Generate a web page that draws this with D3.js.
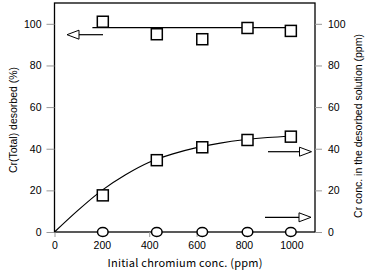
<!DOCTYPE html>
<html><head><meta charset="utf-8">
<script src="https://cdn.jsdelivr.net/npm/d3@7"></script>
<style>body{margin:0;background:#fff}svg{display:block}</style>
</head><body>
<svg id="c" width="368" height="272"></svg>
<script>
const xTicks = [0, 200, 400, 600, 800, 1000];
const yTicks = [0, 20, 40, 60, 80, 100];
const conc = [204, 432, 624, 815, 998];
const desorbedPct = [101, 95, 92.6, 98, 96.6];
const solutionPpm = [17.6, 34.5, 40.7, 44.2, 45.8];
const residualPpm = [0, 0, 0, 0, 0];
const pctLineX = [160, 1000];
const pctLineY = [98.2, 98.2];
const curveX = [0, 100, 200, 300, 400, 500, 600, 700, 800, 900, 1000];
const curveY = [0, 10.5, 20, 27.5, 33.5, 37.5, 40.5, 42.7, 44.3, 45.4, 46];

const svg = d3.select("#c");
const x = d3.scaleLinear().domain([0, 1100]).range([54.5, 315]);
const yL = d3.scaleLinear().domain([0, 110]).range([232, 3]);
const yR = d3.scaleLinear().domain([0, 110]).range([232, 3]);
const tickFont = "'Liberation Sans', Arial, sans-serif";

// box
svg.append("rect").attr("x", x(0)).attr("y", yL(110)).attr("width", x(1100) - x(0)).attr("height", yL(0) - yL(110))
  .attr("fill", "none").attr("stroke", "#000").attr("stroke-width", 1.3);

// axes
const gL = svg.append("g").attr("transform", `translate(${x(0)},0)`)
  .call(d3.axisLeft(yL).tickValues(yTicks).tickSize(8).tickPadding(5).tickFormat(d3.format("d")));
const gR = svg.append("g").attr("transform", `translate(${x(1100)},0)`)
  .call(d3.axisRight(yR).tickValues(yTicks).tickSize(7).tickPadding(6).tickFormat(d3.format("d")));
const gB = svg.append("g").attr("transform", `translate(0,${yL(0)})`)
  .call(d3.axisBottom(x).tickValues(xTicks).tickSize(5).tickPadding(5).tickFormat(d3.format("d")));
[gL, gR, gB].forEach(g => {
  g.select(".domain").remove();
  g.selectAll(".tick line").attr("stroke", "#999");
  g.selectAll(".tick text").attr("font-family", tickFont).attr("font-size", 10.5).attr("fill", "#000");
});

// titles
svg.append("text").attr("transform", `translate(17,120) rotate(-90)`)
  .attr("text-anchor", "middle").attr("font-family", tickFont).attr("font-size", 10.5)
  .text("Cr(Total) desorbed (%)");
svg.append("text").attr("transform", `translate(362,126) rotate(-90)`)
  .attr("text-anchor", "middle").attr("font-family", tickFont).attr("font-size", 10.5)
  .text("Cr conc. in the desorbed solution (ppm)");
svg.append("text").attr("x", 185).attr("y", 267)
  .attr("text-anchor", "middle").attr("font-family", "'Noto Sans CJK JP', sans-serif").attr("font-size", 11)
  .attr("textLength", 155).attr("lengthAdjust", "spacing")
  .text("Initial chromium conc. (ppm)");

// lines
svg.append("path").datum(d3.zip(pctLineX, pctLineY))
  .attr("d", d3.line().x(d => x(d[0])).y(d => yL(d[1])))
  .attr("fill", "none").attr("stroke", "#000").attr("stroke-width", 1.2);
svg.append("path").datum(d3.zip(curveX, curveY))
  .attr("d", d3.line().x(d => x(d[0])).y(d => yR(d[1])).curve(d3.curveMonotoneX))
  .attr("fill", "none").attr("stroke", "#000").attr("stroke-width", 1.2);

// markers
const sq = 11;
svg.append("g").selectAll("rect").data(d3.zip(conc, desorbedPct)).join("rect")
  .attr("x", d => x(d[0]) - sq/2).attr("y", d => yL(d[1]) - sq/2).attr("width", sq).attr("height", sq)
  .attr("fill", "#fff").attr("stroke", "#000").attr("stroke-width", 1.5);
svg.append("g").selectAll("rect").data(d3.zip(conc, solutionPpm)).join("rect")
  .attr("x", d => x(d[0]) - sq/2).attr("y", d => yR(d[1]) - sq/2).attr("width", sq).attr("height", sq)
  .attr("fill", "#fff").attr("stroke", "#000").attr("stroke-width", 1.5);
svg.append("g").selectAll("ellipse").data(d3.zip(conc, residualPpm)).join("ellipse")
  .attr("cx", d => x(d[0])).attr("cy", d => yR(d[1])).attr("rx", 5.3).attr("ry", 4.4)
  .attr("fill", "#fff").attr("stroke", "#000").attr("stroke-width", 1.5);

// arrows
function arrow(x1, x2, y, dir) {
  const base = x2 - dir * 12;
  svg.append("line").attr("x1", x1).attr("x2", base).attr("y1", y).attr("y2", y)
    .attr("stroke", "#000").attr("stroke-width", 1.2);
  svg.append("path").attr("d", `M${x2},${y} L${base},${y-4.5} L${base},${y+4.5} Z`)
    .attr("fill", "#fff").attr("stroke", "#000").attr("stroke-width", 1);
}
arrow(103, 67, 34.7, -1);
arrow(268, 311.5, 151.7, 1);
arrow(265, 311, 217.3, 1);
</script>
</body></html>
